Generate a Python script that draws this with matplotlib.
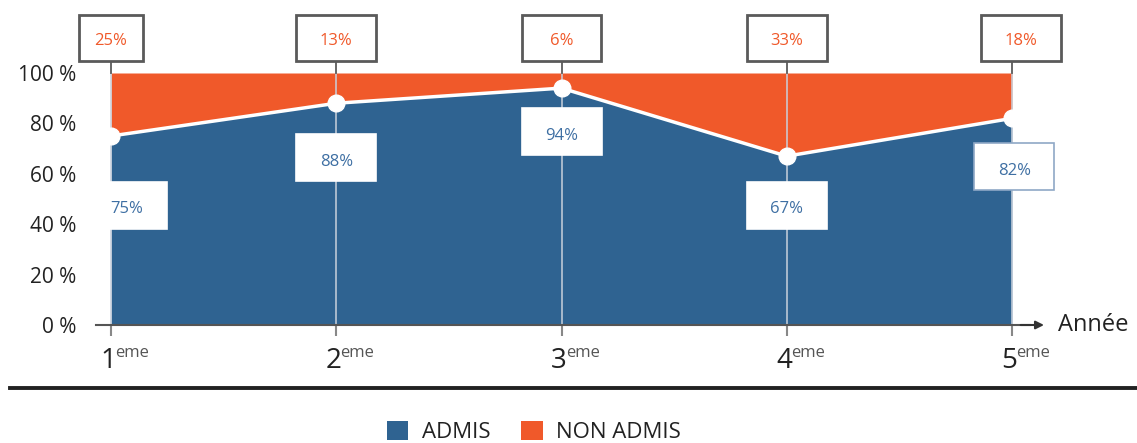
import matplotlib.pyplot as plt
from matplotlib.patches import Rectangle, Patch
from matplotlib.lines import Line2D

# ---- Data ----
years = [1, 2, 3, 4, 5]
year_labels = ["1", "2", "3", "4", "5"]
admis = [75, 88, 94, 67, 82]
non_admis = [25, 13, 6, 33, 18]

# ---- Layout helpers (label placement, not data) ----
admis_label_y = [47.6, 66.3, 76.6, 47.6, 62.7]
admis_label_dx = [0.07, 0.0, 0.0, 0.0, 0.01]
top_box_w = [0.28, 0.355, 0.355, 0.355, 0.355]
top_box_dx = [0.0, 0.0, 0.0, 0.0, 0.04]

BLUE = "#2F6391"
ORANGE = "#F0592A"
LBLUE_TXT = "#3E6FA3"
GREY = "#5A5A5A"

plt.rcParams["font.family"] = ["Open Sans", "DejaVu Sans"]

fig = plt.figure(figsize=(11.37, 4.43), dpi=100)
W, H = 1137, 443
ax = fig.add_axes([96 / W, (H - 325) / H, 934 / W, 252 / H])
ax.set_xlim(1 - 15 / 225.25, 5 + 18 / 225.25)
ax.set_ylim(0, 100)

ax.fill_between(years, 0, admis, color=BLUE, linewidth=0, zorder=1)
ax.fill_between(years, admis, 100, color=ORANGE, linewidth=0, zorder=1)

# light guide lines through the areas
for x in years:
    ax.plot([x, x], [0, 100], color="#C9D1DC", linewidth=1.1, zorder=2)

ax.plot(years, admis, color="white", linewidth=2.5, zorder=3)
ax.plot(years, admis, "o", color="white", markersize=12, zorder=4, clip_on=False)

# blue value labels
bw, bh = 80 / 225.25, 47 / 2.52
for i, (x, v) in enumerate(zip(years, admis)):
    cx = x + admis_label_dx[i]
    cy = admis_label_y[i]
    ec = "#8FA8C6" if i == 4 else "white"
    ax.add_patch(Rectangle((cx - bw / 2, cy - bh / 2), bw, bh, facecolor="white",
                           edgecolor=ec, linewidth=1.2, zorder=5, clip_on=False))
    ax.text(cx, cy - 1.5, f"{v}%", color=LBLUE_TXT, fontsize=12, ha="center",
            va="center", zorder=6)

# top orange value boxes
th = 46 / 2.52
tcy = (325 - 38) / 2.52
for i, (x, v) in enumerate(zip(years, non_admis)):
    cx = x + top_box_dx[i]
    w = top_box_w[i]
    ax.add_patch(Rectangle((cx - w / 2, tcy - th / 2), w, th, facecolor="white",
                           edgecolor=GREY, linewidth=2, zorder=5, clip_on=False))
    ax.text(cx, tcy - 1, f"{v}%", color=ORANGE, fontsize=12, ha="center",
            va="center", zorder=6, clip_on=False)
    ax.plot([x, x], [tcy - th / 2, 100], color=GREY, linewidth=1.3, zorder=2,
            clip_on=False)

# axes styling
for s in ["top", "right", "left"]:
    ax.spines[s].set_visible(False)
ax.spines["bottom"].set_color("#555555")
ax.spines["bottom"].set_linewidth(1.5)
ax.annotate("", xy=(1 + 14 / 934, 0), xytext=(0.99, 0), xycoords="axes fraction",
            arrowprops=dict(arrowstyle="-|>", color="#333333", lw=1.5,
                            mutation_scale=12, shrinkA=0, shrinkB=0))
ax.text(1 + 28 / 934, 0, "Année", transform=ax.transAxes, fontsize=17,
        ha="left", va="center", color="#222222")

ax.set_yticks([0, 20, 40, 60, 80, 100])
ax.set_yticklabels([f"{t} %" for t in [0, 20, 40, 60, 80, 100]], fontsize=15,
                   color="#222222")
ax.tick_params(axis="y", length=0, pad=14)
ax.set_xticks(years)
ax.set_xticklabels([])
ax.tick_params(axis="x", length=8, width=1.5, color="#888888", direction="out")

for x, lab in zip(years, year_labels):
    ax.annotate(lab, xy=(x, 0), xycoords=("data", "axes fraction"),
                xytext=(-2, -26), textcoords="offset points", ha="center",
                va="center", fontsize=20, color="#222222")
    ax.annotate("eme", xy=(x, 0), xycoords=("data", "axes fraction"),
                xytext=(3, -20), textcoords="offset points", ha="left",
                va="center", fontsize=12, color="#555555")

# separator rule
fig.add_artist(Line2D([10 / W, 1.0], [(H - 388) / H] * 2, color="#222222",
                      linewidth=2.8, transform=fig.transFigure))

handles = [Patch(facecolor=BLUE, label="ADMIS"),
           Patch(facecolor=ORANGE, label="NON ADMIS")]
fig.legend(handles=handles, loc="center", bbox_to_anchor=(534 / W, (H - 432) / H),
           ncol=2, frameon=False, fontsize=16, handlelength=0.95, handleheight=0.95,
           handletextpad=0.6, columnspacing=1.4, labelcolor="#222222")

fig.savefig("out.png", dpi=100, facecolor="white")
